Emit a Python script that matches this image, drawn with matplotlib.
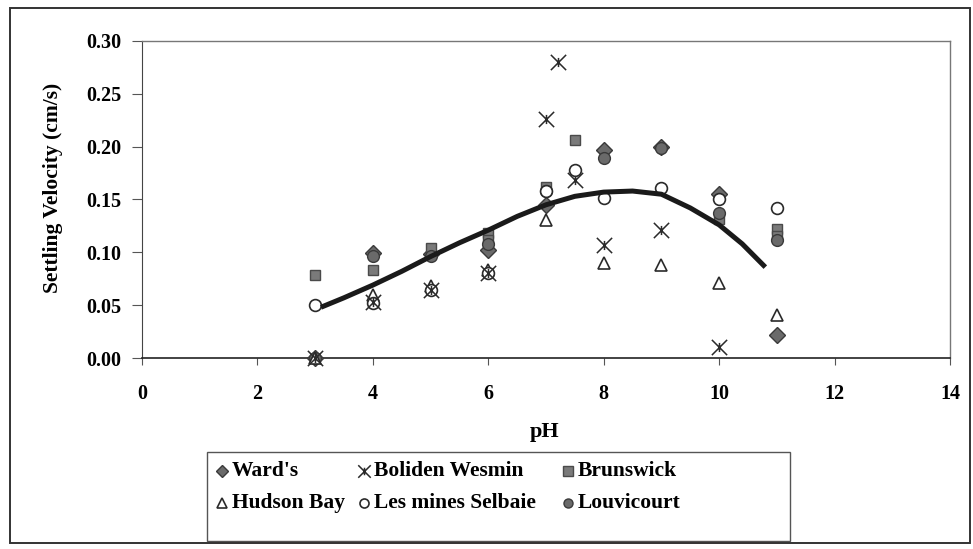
import matplotlib
matplotlib.use('Agg')
import matplotlib.pyplot as plt
from matplotlib.lines import Line2D
from matplotlib.patches import Rectangle
from matplotlib.path import Path

# settling velocity (cm/s) against pH for each ore
wards_ph = [3, 4, 5, 6, 7, 8, 9, 10, 11]
wards_v = [0.0, 0.099, 0.098, 0.102, 0.145, 0.197, 0.200, 0.155, 0.022]

boliden_ph = [3, 4, 5, 6, 7, 7.2, 7.5, 8, 9, 10]
boliden_v = [0.0, 0.053, 0.064, 0.080, 0.226, 0.280, 0.168, 0.107, 0.121, 0.010]

brunswick_ph = [3, 4, 5, 6, 6, 7, 7.5, 10, 11, 11]
brunswick_v = [0.079, 0.083, 0.104, 0.118, 0.112, 0.162, 0.206, 0.132, 0.122, 0.115]

hudson_ph = [3, 4, 5, 6, 7, 8, 9, 10, 11]
hudson_v = [0.0, 0.060, 0.068, 0.083, 0.131, 0.090, 0.088, 0.071, 0.041]

selbaie_ph = [3, 4, 5, 6, 7, 7.5, 8, 9, 10, 11]
selbaie_v = [0.050, 0.052, 0.064, 0.080, 0.158, 0.178, 0.151, 0.161, 0.150, 0.142]

louvicourt_ph = [3, 4, 5, 6, 7, 8, 9, 10, 11]
louvicourt_v = [0.0, 0.097, 0.097, 0.108, 0.158, 0.189, 0.199, 0.137, 0.112]

# trend line
trend_ph = [3.1, 3.5, 4.0, 4.5, 5.0, 5.5, 6.0, 6.5, 7.0, 7.5, 8.0, 8.5, 9.0, 9.5, 10.0, 10.4, 10.8]
trend_v = [0.048, 0.057, 0.069, 0.082, 0.096, 0.109, 0.121, 0.134, 0.145, 0.153, 0.157,
           0.158, 0.155, 0.142, 0.126, 0.108, 0.086]

xticks = [0, 2, 4, 6, 8, 10, 12, 14]
yticks = [0.00, 0.05, 0.10, 0.15, 0.20, 0.25, 0.30]

# X with a short vertical bar
star = Path([(-1, -1), (1, 1), (-1, 1), (1, -1), (0, -0.6), (0, 0.6)],
            [Path.MOVETO, Path.LINETO, Path.MOVETO, Path.LINETO, Path.MOVETO, Path.LINETO])

styles = {
    "Ward's": dict(marker='D', ms=8.5, mfc='#6a6a6a', mec='#3a3a3a', mew=1.0),
    'Boliden Wesmin': dict(marker=star, ms=11, mfc='none', mec='#2a2a2a', mew=1.1),
    'Brunswick': dict(marker='s', ms=7.5, mfc='#7a7a7a', mec='#4a4a4a', mew=1.0),
    'Hudson Bay': dict(marker='^', ms=9, mfc='white', mec='#2a2a2a', mew=1.2),
    'Les mines Selbaie': dict(marker='o', ms=8.5, mfc='white', mec='#2a2a2a', mew=1.2),
    'Louvicourt': dict(marker='o', ms=8.5, mfc='#6a6a6a', mec='#3a3a3a', mew=1.0),
}
series = [
    ("Ward's", wards_ph, wards_v),
    ('Brunswick', brunswick_ph, brunswick_v),
    ('Louvicourt', louvicourt_ph, louvicourt_v),
    ('Hudson Bay', hudson_ph, hudson_v),
    ('Les mines Selbaie', selbaie_ph, selbaie_v),
    ('Boliden Wesmin', boliden_ph, boliden_v),
]

plt.rcParams['font.family'] = ['Liberation Serif', 'DejaVu Serif']
plt.rcParams['font.weight'] = 'bold'

W, H = 973, 549
fig = plt.figure(figsize=(W / 100, H / 100), dpi=100)
ax = fig.add_axes([142 / W, 1 - 358 / H, 808 / W, 317 / H])

for name, x, y in series:
    ax.plot(x, y, ls='none', zorder=3, clip_on=False, **styles[name])
ax.plot(trend_ph, trend_v, color='#1a1a1a', lw=3.6, solid_capstyle='butt', zorder=4)

ax.set_xlim(0, 14)
ax.set_ylim(0, 0.30)
ax.set_xticks(xticks)
ax.set_yticks(yticks)
ax.set_xticklabels([str(t) for t in xticks], fontsize=14.5, fontweight='bold')
ax.set_yticklabels(['%.2f' % t for t in yticks], fontsize=14.5, fontweight='bold')
ax.tick_params(axis='x', direction='out', length=5, width=0.8, color='#555555', pad=14)
ax.tick_params(axis='y', direction='out', length=7, width=0.8, color='#555555', pad=8)
for side in ['top', 'right']:
    ax.spines[side].set_color('#777777')
    ax.spines[side].set_linewidth(1.0)
ax.spines['left'].set_color('#444444')
ax.spines['bottom'].set_color('#222222')
ax.spines['bottom'].set_linewidth(1.2)

fig.text(545 / W, 1 - 432 / H, 'pH', ha='center', va='center', fontsize=16, fontweight='bold')
fig.text(53 / W, 1 - 188 / H, 'Settling Velocity (cm/s)', ha='center', va='center',
         rotation=90, fontsize=15.5, fontweight='bold')

# outer chart frame
fig.patches.append(Rectangle((10 / W, 1 - 543 / H), 960 / W, 535 / H, transform=fig.transFigure,
                             fill=False, ec='#333333', lw=1.4))

# legend box drawn in pixel coordinates
leg = fig.add_axes([0, 0, 1, 1], facecolor='none')
leg.set_xlim(0, W)
leg.set_ylim(H, 0)
leg.axis('off')
leg.add_patch(Rectangle((207, 452), 583, 89, fill=False, ec='#555555', lw=1.0))
legend_rows = [
    [("Ward's", 222), ('Boliden Wesmin', 364), ('Brunswick', 568)],
    [('Hudson Bay', 222), ('Les mines Selbaie', 364), ('Louvicourt', 568)],
]
small = {'Boliden Wesmin': 9, 'Hudson Bay': 6.5, 'Les mines Selbaie': 6.5}
for row_y, row in zip([471, 503], legend_rows):
    for name, x0 in row:
        st = dict(styles[name])
        st['ms'] = small.get(name, 6.5)
        leg.add_line(Line2D([x0], [row_y], ls='none', **st))
        leg.text(x0 + 10, row_y, name, ha='left', va='center', fontsize=15.5, fontweight='bold')

fig.savefig('out.png', dpi=100)
